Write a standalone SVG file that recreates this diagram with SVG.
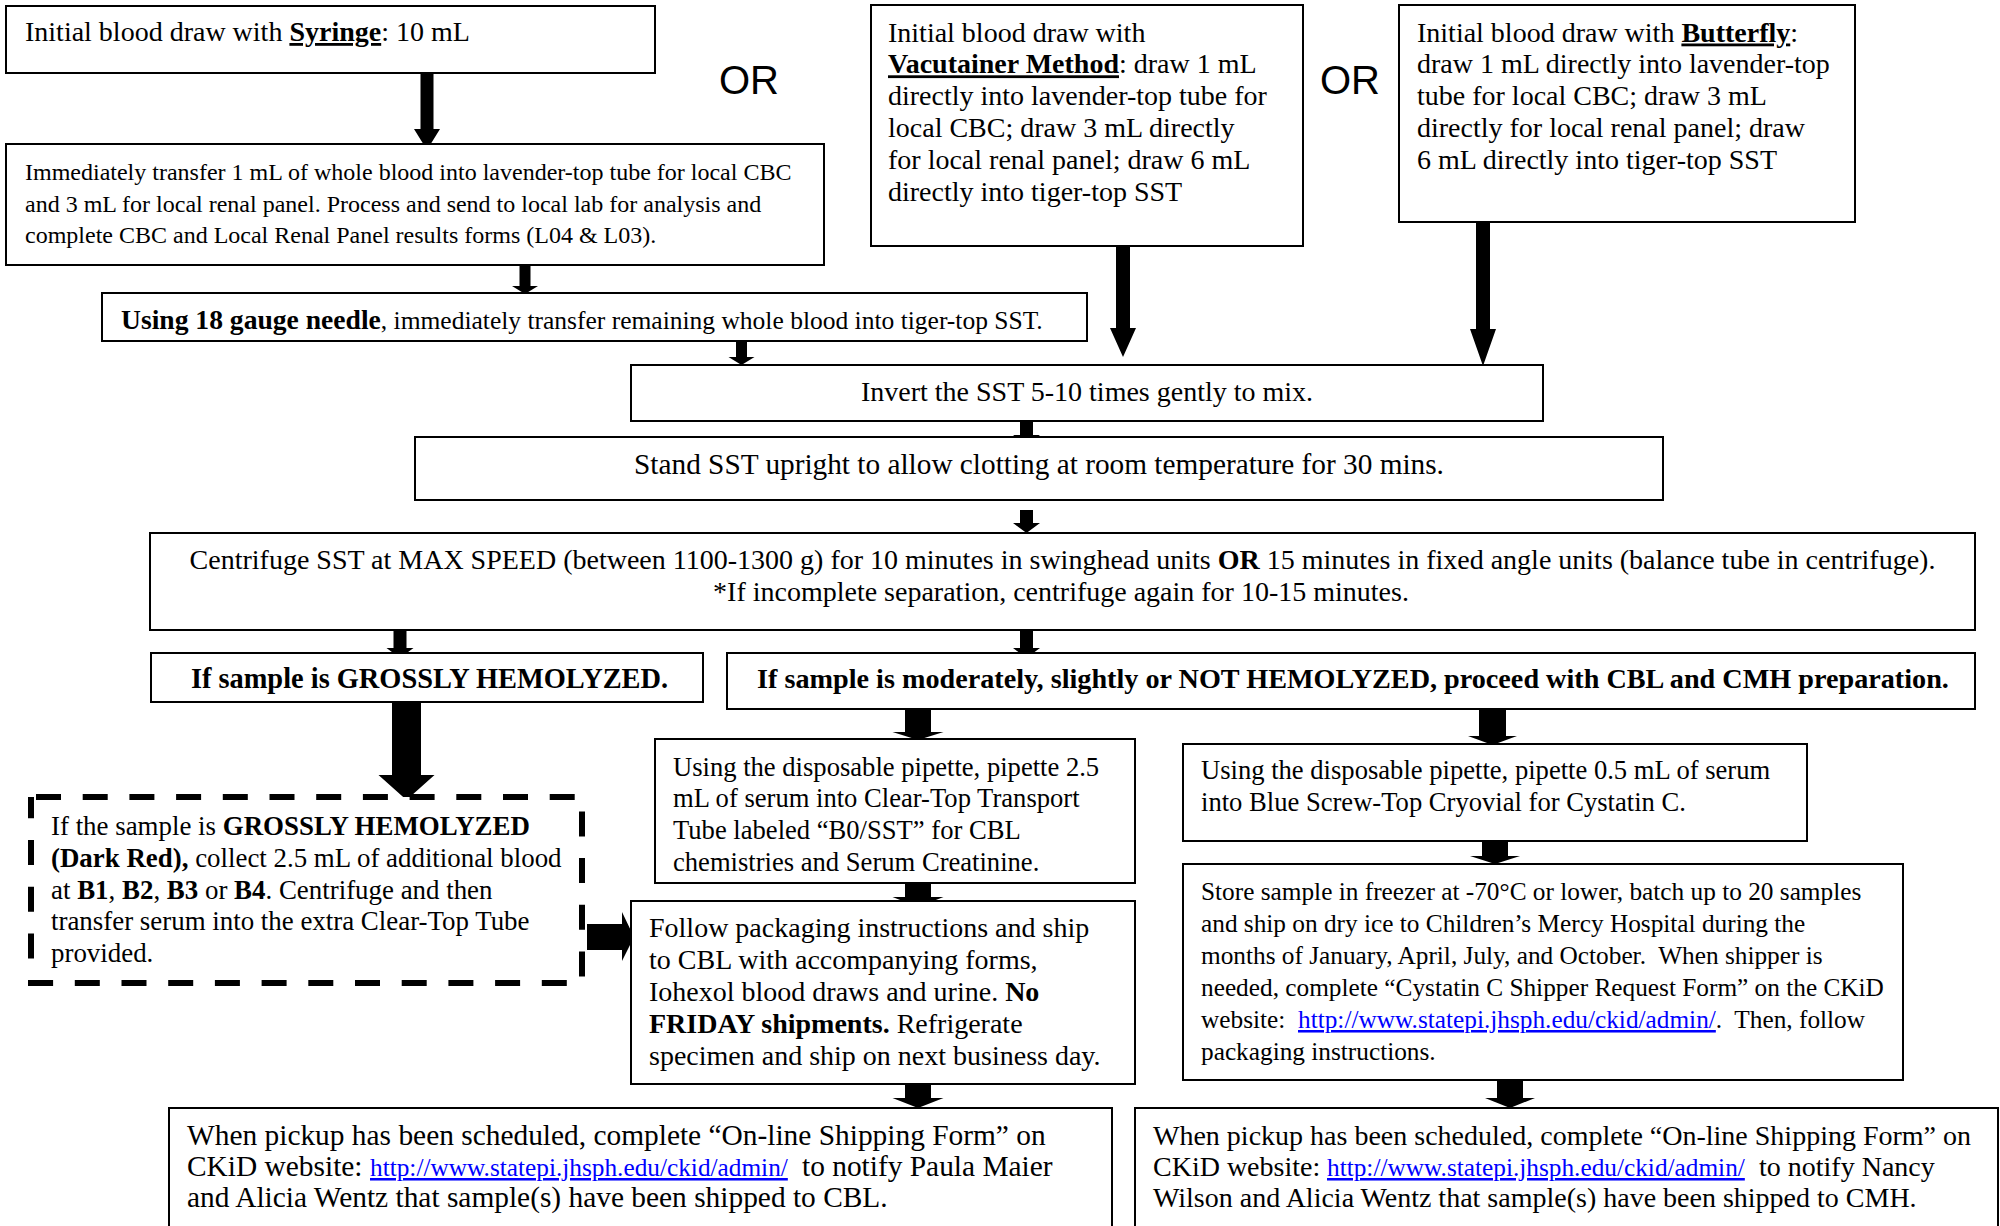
<svg xmlns="http://www.w3.org/2000/svg" width="2000" height="1226" viewBox="0 0 2000 1226">
<style>
.bx{fill:#fff;stroke:#000;stroke-width:2}
.dash{fill:#fff;stroke:#000;stroke-width:6;stroke-dasharray:25 21.7;stroke-dashoffset:41.7}
.ar{fill:#000;stroke:none}
text{font-family:"Liberation Serif","Times New Roman",serif;fill:#000}
.s28{font-size:28px}
.s24{font-size:24px}
.b{font-weight:bold}
.u{text-decoration:underline}
.lk{fill:#0000FF;text-decoration:underline;font-size:25.3px}
.or{font-family:"Liberation Sans",Arial,sans-serif;font-size:40px}
</style>
<rect width="2000" height="1226" fill="#fff"/>

<g id="or-labels">
<text class="or" x="719" y="94">OR</text>
<text class="or" x="1320" y="94">OR</text>
</g>

<g id="connectors">
<polygon class="ar" points="420.5,73 433.5,73 433.5,129 440,129 427,150 414,129 420.5,129"/>
<polygon class="ar" points="519.5,265 530.5,265 530.5,286 538,286 525,294 512,286 519.5,286"/>
<polygon class="ar" points="736,341 747,341 747,357 754.5,357 741.5,365 728.5,357 736,357"/>
<polygon class="ar" points="1116,245 1130,245 1130,328 1136,328 1123,357 1110,328 1116,328"/>
<polygon class="ar" points="1476,222 1490,222 1490,329 1496,329 1483,366 1470,329 1476,329"/>
<polygon class="ar" points="1020,421 1033,421 1033,435 1040,435 1026.5,445 1013,435 1020,435"/>
<polygon class="ar" points="1020,510 1033,510 1033,523 1040,523 1026.5,533 1013,523 1020,523"/>
<polygon class="ar" points="393.5,631 406.5,631 406.5,648 413.5,648 400,658 386.5,648 393.5,648"/>
<polygon class="ar" points="1020,631 1033,631 1033,648 1040,648 1026.5,658 1013,648 1020,648"/>
<polygon class="ar" points="392,702 421,702 421,775 434.5,775 406.5,800 378.5,775 392,775"/>
<polygon class="ar" points="587,924 622,924 622,912 634,937 622,961 622,950 587,950"/>
<polygon class="ar" points="905,709 931,709 931,732 943.5,732 918,740 892.5,732 905,732"/>
<polygon class="ar" points="1479,709 1506,709 1506,736 1517,736 1492.5,745 1468,736 1479,736"/>
<polygon class="ar" points="905,883 931,883 931,897 943.5,897 918,907 892.5,897 905,897"/>
<polygon class="ar" points="1482,841 1508,841 1508,856 1520,856 1495,864 1470,856 1482,856"/>
<polygon class="ar" points="905,1083 931,1083 931,1098 943.5,1098 918,1108 892.5,1098 905,1098"/>
<polygon class="ar" points="1497,1081 1523,1081 1523,1098 1535,1098 1510,1108 1485,1098 1497,1098"/>
</g>

<g id="syringe">
<rect class="bx" x="6" y="6" width="649" height="67"/>
<text class="s28" x="25" y="41">Initial blood draw with <tspan class="b u">Syringe</tspan>: 10 mL</text>
</g>

<g id="vacutainer">
<rect class="bx" x="871" y="5" width="432" height="241"/>
<text class="s28" x="888" y="41.5">Initial blood draw with</text>
<text class="s28" x="888" y="73.3"><tspan class="b u">Vacutainer Method</tspan>: draw 1 mL</text>
<text class="s28" x="888" y="105.2">directly into lavender-top tube for</text>
<text class="s28" x="888" y="137">local CBC; draw 3 mL directly</text>
<text class="s28" x="888" y="169">for local renal panel; draw 6 mL</text>
<text class="s28" x="888" y="200.8">directly into tiger-top SST</text>
</g>

<g id="butterfly">
<rect class="bx" x="1399" y="5" width="456" height="217"/>
<text class="s28" x="1417" y="41.5">Initial blood draw with <tspan class="b u">Butterfly</tspan>:</text>
<text class="s28" x="1417" y="73.3">draw 1 mL directly into lavender-top</text>
<text class="s28" x="1417" y="105.2">tube for local CBC; draw 3 mL</text>
<text class="s28" x="1417" y="137">directly for local renal panel; draw</text>
<text class="s28" x="1417" y="169">6 mL directly into tiger-top SST</text>
</g>

<g id="transfer-local">
<rect class="bx" x="6" y="144" width="818" height="121"/>
<text class="s24" x="25" y="180">Immediately transfer 1 mL of whole blood into lavender-top tube for local CBC</text>
<text class="s24" x="25" y="212">and 3 mL for local renal panel. Process and send to local lab for analysis and</text>
<text class="s24" x="25" y="243">complete CBC and Local Renal Panel results forms (L04 &amp; L03).</text>
</g>

<g id="needle">
<rect class="bx" x="102" y="293" width="985" height="48"/>
<text x="121" y="329"><tspan class="b" style="font-size:27.6px">Using 18 gauge needle</tspan><tspan style="font-size:25.5px">, immediately transfer remaining whole blood into tiger-top SST.</tspan></text>
</g>

<g id="invert">
<rect class="bx" x="631" y="365" width="912" height="56"/>
<text class="s28" x="1087" y="401" text-anchor="middle">Invert the SST 5-10 times gently to mix.</text>
</g>

<g id="stand">
<rect class="bx" x="415" y="437" width="1248" height="63"/>
<text x="1039" y="474" text-anchor="middle" style="font-size:29.3px">Stand SST upright to allow clotting at room temperature for 30 mins.</text>
</g>

<g id="centrifuge">
<rect class="bx" x="150" y="533" width="1825" height="97"/>
<text class="s28" x="1062.5" y="569" text-anchor="middle">Centrifuge SST at MAX SPEED (between 1100-1300 g) for 10 minutes in swinghead units <tspan class="b">OR</tspan> 15 minutes in fixed angle units (balance tube in centrifuge).</text>
<text class="s28" x="1061" y="601" text-anchor="middle">*If incomplete separation, centrifuge again for 10-15 minutes.</text>
</g>

<g id="grossly">
<rect class="bx" x="151" y="653" width="552" height="49"/>
<text class="b" x="429.5" y="688" text-anchor="middle" style="font-size:28.4px">If sample is GROSSLY HEMOLYZED.</text>
</g>

<g id="moderately">
<rect class="bx" x="727" y="653" width="1248" height="56"/>
<text class="b" x="1353" y="688" text-anchor="middle" style="font-size:28.2px">If sample is moderately, slightly or NOT HEMOLYZED, proceed with CBL and CMH preparation.</text>
</g>

<g id="grossly-action">
<path class="dash" d="M31,797 H582 V983 H31 Z"/>
<text x="51" y="835" style="font-size:26.9px">If the sample is <tspan class="b">GROSSLY HEMOLYZED</tspan></text>
<text x="51" y="867" style="font-size:26.9px"><tspan class="b">(Dark Red),</tspan> collect 2.5 mL of additional blood</text>
<text x="51" y="899" style="font-size:26.9px">at <tspan class="b">B1</tspan>, <tspan class="b">B2</tspan>, <tspan class="b">B3</tspan> or <tspan class="b">B4</tspan>. Centrifuge and then</text>
<text x="51" y="930" style="font-size:26.9px">transfer serum into the extra Clear-Top Tube</text>
<text x="51" y="962" style="font-size:26.9px">provided.</text>
</g>

<g id="pipette-cbl">
<rect class="bx" x="655" y="739" width="480" height="144"/>
<text x="673" y="776" style="font-size:26.6px">Using the disposable pipette, pipette 2.5</text>
<text x="673" y="807" style="font-size:26.6px">mL of serum into Clear-Top Transport</text>
<text x="673" y="839" style="font-size:26.6px">Tube labeled “B0/SST” for CBL</text>
<text x="673" y="871" style="font-size:26.6px">chemistries and Serum Creatinine.</text>
</g>

<g id="ship-cbl">
<rect class="bx" x="631" y="901" width="504" height="183"/>
<text class="s28" x="649" y="937">Follow packaging instructions and ship</text>
<text class="s28" x="649" y="969">to CBL with accompanying forms,</text>
<text class="s28" x="649" y="1001">Iohexol blood draws and urine. <tspan class="b">No</tspan></text>
<text class="s28" x="649" y="1033"><tspan class="b">FRIDAY shipments.</tspan> Refrigerate</text>
<text class="s28" x="649" y="1065">specimen and ship on next business day.</text>
</g>

<g id="pipette-cystatin">
<rect class="bx" x="1183" y="744" width="624" height="97"/>
<text x="1201" y="779" style="font-size:26.6px">Using the disposable pipette, pipette 0.5 mL of serum</text>
<text x="1201" y="811" style="font-size:26.6px">into Blue Screw-Top Cryovial for Cystatin C.</text>
</g>

<g id="store-cmh">
<rect class="bx" x="1183" y="864" width="720" height="216"/>
<text x="1201" y="900" style="font-size:25.3px">Store sample in freezer at -70°C or lower, batch up to 20 samples</text>
<text x="1201" y="932" style="font-size:25.3px">and ship on dry ice to Children’s Mercy Hospital during the</text>
<text x="1201" y="964" style="font-size:25.3px" xml:space="preserve">months of January, April, July, and October.  When shipper is</text>
<text x="1201" y="996" style="font-size:25.3px">needed, complete “Cystatin C Shipper Request Form” on the CKiD</text>
<text x="1201" y="1028" style="font-size:25.3px">website:<tspan class="lk" x="1298">http://www.statepi.jhsph.edu/ckid/admin/</tspan><tspan xml:space="preserve">.  Then, follow</tspan></text>
<text x="1201" y="1060" style="font-size:25.3px">packaging instructions.</text>
</g>

<g id="notify-cbl">
<rect class="bx" x="169" y="1108" width="943" height="140"/>
<text x="187" y="1145" style="font-size:29.4px">When pickup has been scheduled, complete “On-line Shipping Form” on</text>
<text x="187" y="1176" style="font-size:29.4px">CKiD website:<tspan class="lk" x="370">http://www.statepi.jhsph.edu/ckid/admin/</tspan><tspan x="802">to notify Paula Maier</tspan></text>
<text x="187" y="1207" style="font-size:29.4px">and Alicia Wentz that sample(s) have been shipped to CBL.</text>
</g>

<g id="notify-cmh">
<rect class="bx" x="1135" y="1108" width="863" height="140"/>
<text class="s28" x="1153" y="1145">When pickup has been scheduled, complete “On-line Shipping Form” on</text>
<text class="s28" x="1153" y="1176">CKiD website:<tspan class="lk" x="1327">http://www.statepi.jhsph.edu/ckid/admin/</tspan><tspan x="1759">to notify Nancy</tspan></text>
<text class="s28" x="1153" y="1207">Wilson and Alicia Wentz that sample(s) have been shipped to CMH.</text>
</g>
</svg>
